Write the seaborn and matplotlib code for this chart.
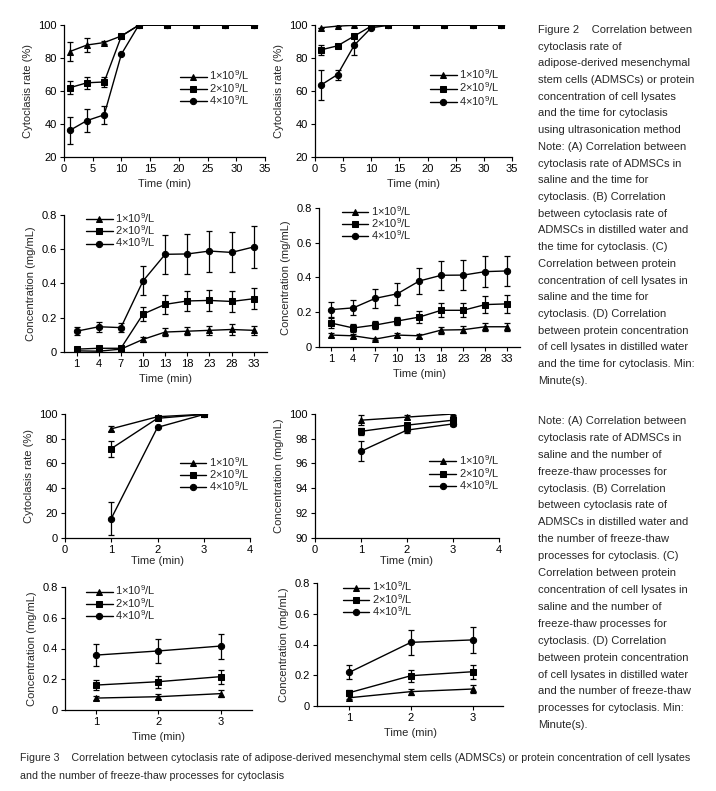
import numpy as np
import pandas as pd
import seaborn as sns
import matplotlib
matplotlib.use("Agg")
import matplotlib.pyplot as plt

# ---- data ----
labels = ["1×10$^{9}$/L", "2×10$^{9}$/L", "4×10$^{9}$/L"]
time_us = [1, 4, 7, 10, 13, 18, 23, 28, 33]
time_ft = [1, 2, 3]

# Figure 2 A: cytoclasis rate, saline (ultrasonication)
rate_sal_1 = [84, 88, 89.5, 93.5, 100, 100, 100, 100, 100]
rate_sal_2 = [62, 65, 65.5, 93.5, 100, 100, 100, 100, 100]
rate_sal_4 = [36, 42, 45.5, 82.5, 100, 100, 100, 100, 100]
err_sal_1 = [6, 4, 1, 0, 0, 0, 0, 0, 0]
err_sal_2 = [4, 3.5, 3, 0, 0, 0, 0, 0, 0]
err_sal_4 = [8, 7, 5.5, 0, 0, 0, 0, 0, 0]

# Figure 2 B: cytoclasis rate, distilled water
rate_dw_1 = [98.5, 99.5, 100, 100, 100, 100, 100, 100, 100]
rate_dw_2 = [85, 87.5, 93.5, 99.5, 100, 100, 100, 100, 100]
rate_dw_4 = [63.5, 70, 88, 98.5, 100, 100, 100, 100, 100]
err_dw_1 = [0, 0, 0, 0, 0, 0, 0, 0, 0]
err_dw_2 = [3, 0, 0, 0, 0, 0, 0, 0, 0]
err_dw_4 = [9, 3, 6, 0, 0, 0, 0, 0, 0]

# Figure 2 C: protein concentration, saline
conc_sal_1 = [0.005, 0.003, 0.015, 0.072, 0.115, 0.12, 0.125, 0.13, 0.125]
conc_sal_2 = [0.015, 0.02, 0.02, 0.22, 0.277, 0.297, 0.30, 0.294, 0.31]
conc_sal_4 = [0.12, 0.146, 0.141, 0.414, 0.57, 0.572, 0.589, 0.581, 0.613]
cerr_sal_1 = [0.01, 0.01, 0.01, 0.013, 0.025, 0.025, 0.025, 0.03, 0.025]
cerr_sal_2 = [0.01, 0.01, 0.01, 0.04, 0.055, 0.06, 0.06, 0.06, 0.062]
cerr_sal_4 = [0.022, 0.03, 0.025, 0.085, 0.115, 0.115, 0.12, 0.117, 0.122]

# Figure 2 D: protein concentration, distilled water
conc_dw_1 = [0.067, 0.063, 0.044, 0.067, 0.063, 0.096, 0.098, 0.115, 0.115]
conc_dw_2 = [0.136, 0.108, 0.125, 0.148, 0.171, 0.21, 0.21, 0.243, 0.247]
conc_dw_4 = [0.214, 0.224, 0.279, 0.305, 0.379, 0.412, 0.413, 0.433, 0.437]
cerr_dw_1 = [0.012, 0.01, 0.008, 0.01, 0.01, 0.02, 0.02, 0.022, 0.022]
cerr_dw_2 = [0.03, 0.022, 0.022, 0.025, 0.035, 0.04, 0.04, 0.05, 0.05]
cerr_dw_4 = [0.044, 0.044, 0.055, 0.062, 0.075, 0.083, 0.085, 0.088, 0.088]

# Figure 3 A: cytoclasis rate, saline (freeze-thaw)
ft_rate_sal_1 = [88, 97.8, 99.8]
ft_rate_sal_2 = [72, 96.5, 99.7]
ft_rate_sal_4 = [15.5, 89.2, 99.6]
ft_err_sal_1 = [2, 0, 0]
ft_err_sal_2 = [6.5, 0, 0]
ft_err_sal_4 = [13.5, 0, 0]

# Figure 3 B: distilled water
ft_rate_dw_1 = [99.5, 99.75, 100]
ft_rate_dw_2 = [98.6, 99.1, 99.5]
ft_rate_dw_4 = [97.0, 98.7, 99.2]
ft_err_dw_1 = [0.4, 0.15, 0.1]
ft_err_dw_2 = [0.3, 0.2, 0.15]
ft_err_dw_4 = [0.8, 0.2, 0.2]

# Figure 3 C: concentration, saline
ft_conc_sal_1 = [0.076, 0.085, 0.105]
ft_conc_sal_2 = [0.161, 0.183, 0.216]
ft_conc_sal_4 = [0.357, 0.384, 0.416]
ft_cerr_sal_1 = [0.015, 0.018, 0.022]
ft_cerr_sal_2 = [0.035, 0.04, 0.045]
ft_cerr_sal_4 = [0.07, 0.078, 0.082]

# Figure 3 D: concentration, distilled water
ft_conc_dw_1 = [0.052, 0.092, 0.109]
ft_conc_dw_2 = [0.085, 0.196, 0.222]
ft_conc_dw_4 = [0.218, 0.414, 0.43]
ft_cerr_dw_1 = [0.01, 0.02, 0.025]
ft_cerr_dw_2 = [0.015, 0.04, 0.045]
ft_cerr_dw_4 = [0.045, 0.08, 0.085]

fig2_text = [
    "Figure 2    Correlation between",
    "cytoclasis rate of",
    "adipose-derived mesenchymal",
    "stem cells (ADMSCs) or protein",
    "concentration of cell lysates",
    "and the time for cytoclasis",
    "using ultrasonication method",
    "Note: (A) Correlation between",
    "cytoclasis rate of ADMSCs in",
    "saline and the time for",
    "cytoclasis. (B) Correlation",
    "between cytoclasis rate of",
    "ADMSCs in distilled water and",
    "the time for cytoclasis. (C)",
    "Correlation between protein",
    "concentration of cell lysates in",
    "saline and the time for",
    "cytoclasis. (D) Correlation",
    "between protein concentration",
    "of cell lysates in distilled water",
    "and the time for cytoclasis. Min:",
    "Minute(s).",
]
fig3_note = [
    "Note: (A) Correlation between",
    "cytoclasis rate of ADMSCs in",
    "saline and the number of",
    "freeze-thaw processes for",
    "cytoclasis. (B) Correlation",
    "between cytoclasis rate of",
    "ADMSCs in distilled water and",
    "the number of freeze-thaw",
    "processes for cytoclasis. (C)",
    "Correlation between protein",
    "concentration of cell lysates in",
    "saline and the number of",
    "freeze-thaw processes for",
    "cytoclasis. (D) Correlation",
    "between protein concentration",
    "of cell lysates in distilled water",
    "and the number of freeze-thaw",
    "processes for cytoclasis. Min:",
    "Minute(s).",
]
fig3_caption = [
    "Figure 3    Correlation between cytoclasis rate of adipose-derived mesenchymal stem cells (ADMSCs) or protein concentration of cell lysates",
    "and the number of freeze-thaw processes for cytoclasis",
]

# ---- style ----
sns.set_style("ticks")
plt.rcParams["font.family"] = ["Liberation Sans", "DejaVu Sans"]
plt.rcParams["mathtext.default"] = "regular"
plt.rcParams["font.size"] = 8

W, H = 716, 791
fig = plt.figure(figsize=(W / 100, H / 100), dpi=100)


def px_axes(left, right, top, bottom):
    # pixel box -> figure fraction
    return fig.add_axes([left / W, 1 - bottom / H, (right - left) / W, (bottom - top) / H])


markers = ["^", "s", "o"]
msizes = [5, 5, 4.5]
zorders = [3, 4, 3]


def draw(ax, x, ys, errs, leg_xy, spacing=-0.13):
    for i in range(3):
        sns.lineplot(x=x, y=ys[i], ax=ax, color="black", marker=markers[i],
                     markersize=msizes[i], markeredgecolor="black", linewidth=1,
                     label=labels[i], zorder=zorders[i])
        ax.errorbar(x, ys[i], yerr=errs[i], fmt="none", ecolor="black",
                    elinewidth=0.9, capsize=2.5, capthick=0.9, zorder=2)
    ax.legend(loc="upper left", bbox_to_anchor=leg_xy, frameon=False, fontsize=8,
              handlelength=2.4, handletextpad=0.25, labelspacing=spacing,
              borderpad=0, borderaxespad=0)
    sns.despine(ax=ax)
    ax.tick_params(direction="out", length=3, width=0.8, pad=2, labelsize=8, colors="black")
    for s in ["left", "bottom"]:
        ax.spines[s].set_linewidth(0.9)
        ax.spines[s].set_color("black")
    ax.set_xlabel("Time (min)", fontsize=8, labelpad=4)


# Figure 2 A
ax = px_axes(64, 265, 25.3, 156.7)
draw(ax, time_us, [rate_sal_1, rate_sal_2, rate_sal_4], [err_sal_1, err_sal_2, err_sal_4], (0.577, 0.67))
ax.set_xlim(0, 35)
ax.set_ylim(20, 100)
ax.set_xticks(range(0, 36, 5))
ax.set_yticks(range(20, 101, 20))
ax.set_ylabel("Cytoclasis rate (%)", fontsize=8)

# Figure 2 B
ax = px_axes(315, 512, 25.3, 156.7)
draw(ax, time_us, [rate_dw_1, rate_dw_2, rate_dw_4], [err_dw_1, err_dw_2, err_dw_4], (0.584, 0.68), -0.05)
ax.set_xlim(0, 35)
ax.set_ylim(20, 100)
ax.set_xticks(range(0, 36, 5))
ax.set_yticks(range(20, 101, 20))
ax.set_ylabel("Cytoclasis rate (%)", fontsize=8)

# Figure 2 C (categorical time axis)
pos = list(range(len(time_us)))
ax = px_axes(64, 267, 215, 351.7)
draw(ax, pos, [conc_sal_1, conc_sal_2, conc_sal_4], [cerr_sal_1, cerr_sal_2, cerr_sal_4], (0.108, 1.03))
ax.set_xlim(-0.57, 8.6)
ax.set_ylim(0, 0.8)
ax.set_xticks(pos)
ax.set_xticklabels([str(t) for t in time_us])
ax.set_yticks([0, 0.2, 0.4, 0.6, 0.8])
ax.set_yticklabels(["0", "0.2", "0.4", "0.6", "0.8"])
ax.set_ylabel("Concentration (mg/mL)", fontsize=8)

# Figure 2 D
ax = px_axes(319, 520, 208, 346.7)
draw(ax, pos, [conc_dw_1, conc_dw_2, conc_dw_4], [cerr_dw_1, cerr_dw_2, cerr_dw_4], (0.113, 1.03))
ax.set_xlim(-0.56, 8.58)
ax.set_ylim(0, 0.8)
ax.set_xticks(pos)
ax.set_xticklabels([str(t) for t in time_us])
ax.set_yticks([0, 0.2, 0.4, 0.6, 0.8])
ax.set_yticklabels(["0", "0.2", "0.4", "0.6", "0.8"])
ax.set_ylabel("Concentration (mg/mL)", fontsize=8)

# Figure 3 A
ax = px_axes(65, 250, 414, 537.7)
draw(ax, time_ft, [ft_rate_sal_1, ft_rate_sal_2, ft_rate_sal_4], [ft_err_sal_1, ft_err_sal_2, ft_err_sal_4], (0.62, 0.67))
ax.set_xlim(0, 4)
ax.set_ylim(0, 100)
ax.set_xticks(range(0, 5))
ax.set_yticks(range(0, 101, 20))
ax.set_ylabel("Cytoclasis rate (%)", fontsize=8)
ax.xaxis.labelpad = 1

# Figure 3 B
ax = px_axes(315, 499, 414, 537.7)
draw(ax, time_ft, [ft_rate_dw_1, ft_rate_dw_2, ft_rate_dw_4], [ft_err_dw_1, ft_err_dw_2, ft_err_dw_4], (0.622, 0.68))
ax.set_xlim(0, 4)
ax.set_ylim(90, 100)
ax.set_xticks(range(0, 5))
ax.set_yticks(range(90, 101, 2))
ax.set_ylabel("Concentration (mg/mL)", fontsize=8)
ax.xaxis.labelpad = 1

# Figure 3 C
ax = px_axes(65, 251.7, 587.3, 709.7)
draw(ax, time_ft, [ft_conc_sal_1, ft_conc_sal_2, ft_conc_sal_4], [ft_cerr_sal_1, ft_cerr_sal_2, ft_cerr_sal_4], (0.112, 1.03))
ax.set_xlim(0.5, 3.5)
ax.set_ylim(0, 0.8)
ax.set_xticks(time_ft)
ax.set_yticks([0, 0.2, 0.4, 0.6, 0.8])
ax.set_yticklabels(["0", "0.2", "0.4", "0.6", "0.8"])
ax.set_ylabel("Concentration (mg/mL)", fontsize=8)

# Figure 3 D
ax = px_axes(316.7, 503.3, 583.3, 705.7)
draw(ax, time_ft, [ft_conc_dw_1, ft_conc_dw_2, ft_conc_dw_4], [ft_cerr_dw_1, ft_cerr_dw_2, ft_cerr_dw_4], (0.139, 1.03))
ax.set_xlim(0.47, 3.5)
ax.set_ylim(0, 0.8)
ax.set_xticks(time_ft)
ax.set_yticks([0, 0.2, 0.4, 0.6, 0.8])
ax.set_yticklabels(["0", "0.2", "0.4", "0.6", "0.8"])
ax.set_ylabel("Concentration (mg/mL)", fontsize=8)

# ---- side notes and caption ----
for i, line in enumerate(fig2_text):
    fig.text(538 / W, 1 - (30 + i * 16.7) / H, line, fontsize=8, va="center", ha="left")
for i, line in enumerate(fig3_note):
    fig.text(538 / W, 1 - (421 + i * 16.9) / H, line, fontsize=8, va="center", ha="left")
for i, line in enumerate(fig3_caption):
    fig.text(20 / W, 1 - (758 + i * 18) / H, line, fontsize=7.65, va="center", ha="left")

fig.savefig("out.png", dpi=100, facecolor="white")
